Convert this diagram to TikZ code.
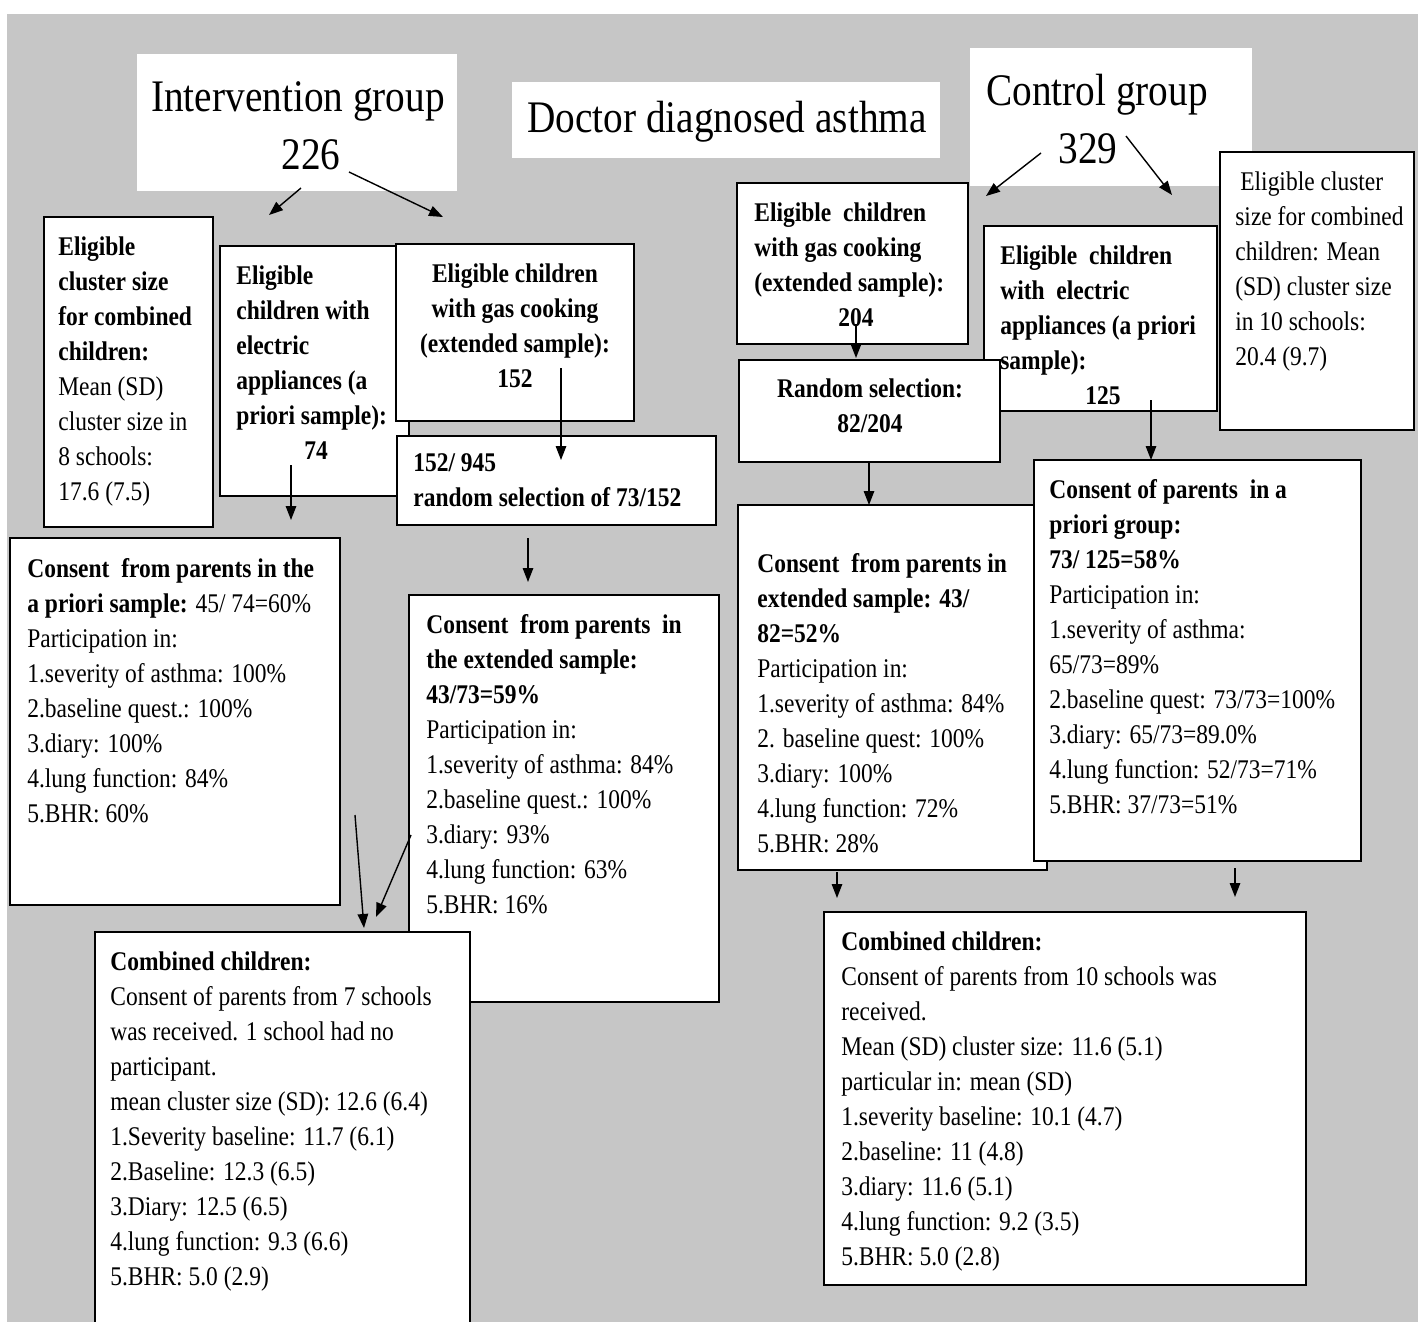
\documentclass[tikz,border=0pt]{standalone}
\usepackage{fontspec}
\setmainfont{Liberation Serif}[FakeStretch=0.87]
\usetikzlibrary{arrows.meta}
\definecolor{panelgray}{RGB}{198,198,198}

\begin{document}
\begin{tikzpicture}[x=0.02cm, y=-0.02cm,
	box/.style={shape=rectangle, draw, line width=0.9pt, fill=white, inner sep=0pt},
	plainbox/.style={shape=rectangle, fill=white, inner sep=0pt},
	txt/.style={anchor=north west, align=left, inner sep=0pt, font=\fontsize{15.36}{19.92}\selectfont},
	ttl/.style={anchor=center, align=center, inner sep=0pt, font=\fontsize{25.7}{32.9}\selectfont},
	arr/.style={line width=0.8pt, -{Triangle[length=0.28cm, width=0.21cm]}}]
	% Page and panel:
	\useasboundingbox (0,0) rectangle (1418,1322);
	\fill[white] (0,0) rectangle (1418,1322);
	\fill[panelgray] (7,14) rectangle (1418,1322);
	% Titles:
	\node[plainbox, minimum width=6.40cm, minimum height=2.74cm] (intv) at (297,122.5){};
	\node[ttl] (intvt) at (298,126){Intervention group\\\hspace*{0.52cm}226};
	\node[plainbox, minimum width=8.56cm, minimum height=1.52cm] (doc) at (726,120){};
	\node[ttl] (doct) at (727,122){Doctor diagnosed asthma};
	\node[plainbox, minimum width=5.64cm, minimum height=2.76cm] (ctrl) at (1111,117){};
	\node[ttl] (ctrlt) at (1097,119){Control group\\329\hspace*{0.36cm}};
	% Intervention group boxes:
	\node[box, minimum width=3.38cm, minimum height=6.20cm] (icl) at (128.5,372){};
	\node[txt] (iclt) at (58,236){\textbf{Eligible}\\\textbf{cluster size}\\\textbf{for combined}\\\textbf{children:}\\Mean (SD)\\cluster size in\\8 schools:\\17.6 (7.5)};
	\node[box, minimum width=3.78cm, minimum height=5.00cm] (iel) at (314.5,371){};
	\node[txt] (ielt) at (236,265){\textbf{Eligible}\\\textbf{children with}\\\textbf{electric}\\\textbf{appliances (a}\\\textbf{priori sample):}\\\hspace*{1.36cm}\textbf{74}};
	\node[box, minimum width=4.76cm, minimum height=3.54cm] (igas) at (515,332.5){};
	\node[txt, anchor=north, align=center] (igast) at (515,263){\textbf{Eligible children}\\\textbf{with gas cooking}\\\textbf{(extended sample):}\\\textbf{152}};
	\node[box, minimum width=6.38cm, minimum height=1.78cm] (isel) at (556.5,480.5){};
	\node[txt] (iselt) at (413,453){\textbf{152/ 945}\\\textbf{random selection of 73/152}};
	\node[box, minimum width=6.60cm, minimum height=7.34cm] (iapr) at (175,721.5){};
	\node[txt] (iaprt) at (27,558){\textbf{Consent\ \ from parents in the}\\\textbf{a priori sample:} 45/ 74=60\%\\Participation in:\\1.severity of asthma: 100\%\\2.baseline quest.: 100\%\\3.diary: 100\%\\4.lung function: 84\%\\5.BHR: 60\%};
	\node[box, minimum width=6.20cm, minimum height=8.14cm] (iext) at (564,798.5){};
	\node[txt] (iextt) at (426,614){\textbf{Consent\ \ from parents\ \ in}\\\textbf{the extended sample:}\\\textbf{43/73=59\%}\\Participation in:\\1.severity of asthma: 84\%\\2.baseline quest.: 100\%\\3.diary: 93\%\\4.lung function: 63\%\\5.BHR: 16\%};
	\node[box, minimum width=7.50cm, minimum height=8.16cm] (icomb) at (282.5,1136){};
	\node[txt] (icombt) at (110,951){\textbf{Combined children:}\\Consent of parents from 7 schools\\was received. 1 school had no\\participant.\\mean cluster size (SD): 12.6 (6.4)\\1.Severity baseline: 11.7 (6.1)\\2.Baseline: 12.3 (6.5)\\3.Diary: 12.5 (6.5)\\4.lung function: 9.3 (6.6)\\5.BHR: 5.0 (2.9)};
	% Control group boxes:
	\node[box, minimum width=3.88cm, minimum height=5.56cm] (ccl) at (1317,291){};
	\node[txt] (cclt) at (1235,171){\hspace*{0.1cm}Eligible cluster\\size for combined\\children: Mean\\(SD) cluster size\\in 10 schools:\\20.4 (9.7)};
	\node[box, minimum width=4.62cm, minimum height=3.22cm] (cgas) at (852.5,263.5){};
	\node[txt] (cgast) at (754,202){\textbf{Eligible\ \ children}\\\textbf{with gas cooking}\\\textbf{(extended sample):}\\\hspace*{1.68cm}\textbf{204}};
	\node[box, minimum width=4.66cm, minimum height=3.70cm] (cel) at (1100.5,318.5){};
	\node[box, minimum width=5.22cm, minimum height=2.04cm] (csel) at (869.5,411){};
	\node[txt] (celt) at (1000,245){\textbf{Eligible\ \ children}\\\textbf{with\ \ electric}\\\textbf{appliances (a priori}\\\textbf{sample):}\\\hspace*{1.70cm}\textbf{125}};
	\node[txt, anchor=north, align=center] (cselt) at (870,378){\textbf{Random selection:}\\\textbf{82/204}};
	\node[box, minimum width=6.18cm, minimum height=7.30cm] (cext) at (892.5,687.5){};
	\node[txt] (cextt) at (757,553){\textbf{Consent\ \ from parents in}\\\textbf{extended sample: 43/}\\\textbf{82=52\%}\\Participation in:\\1.severity of asthma: 84\%\\2. baseline quest: 100\%\\3.diary: 100\%\\4.lung function: 72\%\\5.BHR: 28\%};
	\node[box, minimum width=6.54cm, minimum height=8.02cm] (capr) at (1197.5,660.5){};
	\node[txt] (caprt) at (1049,479){\textbf{Consent of parents\ \ in a}\\\textbf{priori group:}\\\textbf{73/ 125=58\%}\\Participation in:\\1.severity of asthma:\\65/73=89\%\\2.baseline quest: 73/73=100\%\\3.diary: 65/73=89.0\%\\4.lung function: 52/73=71\%\\5.BHR: 37/73=51\%};
	\node[box, minimum width=9.64cm, minimum height=7.46cm] (ccomb) at (1065,1098.5){};
	\node[txt] (ccombt) at (841,931){\textbf{Combined children:}\\Consent of parents from 10 schools was\\received.\\Mean (SD) cluster size: 11.6 (5.1)\\particular in: mean (SD)\\1.severity baseline: 10.1 (4.7)\\2.baseline: 11 (4.8)\\3.diary: 11.6 (5.1)\\4.lung function: 9.2 (3.5)\\5.BHR: 5.0 (2.8)};
	% Wire ends:
	\coordinate (intv-l) at (301,188); \coordinate (iel-in) at (269,215);
	\coordinate (intv-r) at (349,172); \coordinate (igas-in) at (443,217);
	\coordinate (ctrl-l) at (1041,153); \coordinate (cgas-in) at (986,196);
	\coordinate (ctrl-r) at (1126,136); \coordinate (cel-in) at (1172,195);
	\coordinate (iel-out) at (291,465); \coordinate (iapr-in) at (291,520);
	\coordinate (igas-out) at (561,368); \coordinate (isel-in) at (561,460);
	\coordinate (isel-out) at (528,538); \coordinate (iext-in) at (528,582);
	\coordinate (iapr-out) at (355,815); \coordinate (icomb-inl) at (364,928);
	\coordinate (iext-out) at (411,835); \coordinate (icomb-inr) at (376,917);
	\coordinate (cgas-out) at (856,324); \coordinate (csel-in) at (856,358);
	\coordinate (csel-out) at (869,463); \coordinate (cext-in) at (869,505);
	\coordinate (cel-out) at (1151,400); \coordinate (capr-in) at (1151,460);
	\coordinate (cext-out) at (837,872); \coordinate (ccomb-inl) at (837,898);
	\coordinate (capr-out) at (1235,868); \coordinate (ccomb-inr) at (1235,897);
	% Arrows:
	\draw[arr] (intv-l) -- (iel-in);
	\draw[arr] (intv-r) -- (igas-in);
	\draw[arr] (ctrl-l) -- (cgas-in);
	\draw[arr] (ctrl-r) -- (cel-in);
	\draw[arr] (iel-out) -- (iapr-in);
	\draw[arr] (igas-out) -- (isel-in);
	\draw[arr] (isel-out) -- (iext-in);
	\draw[arr] (iapr-out) -- (icomb-inl);
	\draw[arr] (iext-out) -- (icomb-inr);
	\draw[arr] (cgas-out) -- (csel-in);
	\draw[arr] (csel-out) -- (cext-in);
	\draw[arr] (cel-out) -- (capr-in);
	\draw[arr] (cext-out) -- (ccomb-inl);
	\draw[arr] (capr-out) -- (ccomb-inr);
\end{tikzpicture}
\end{document}
